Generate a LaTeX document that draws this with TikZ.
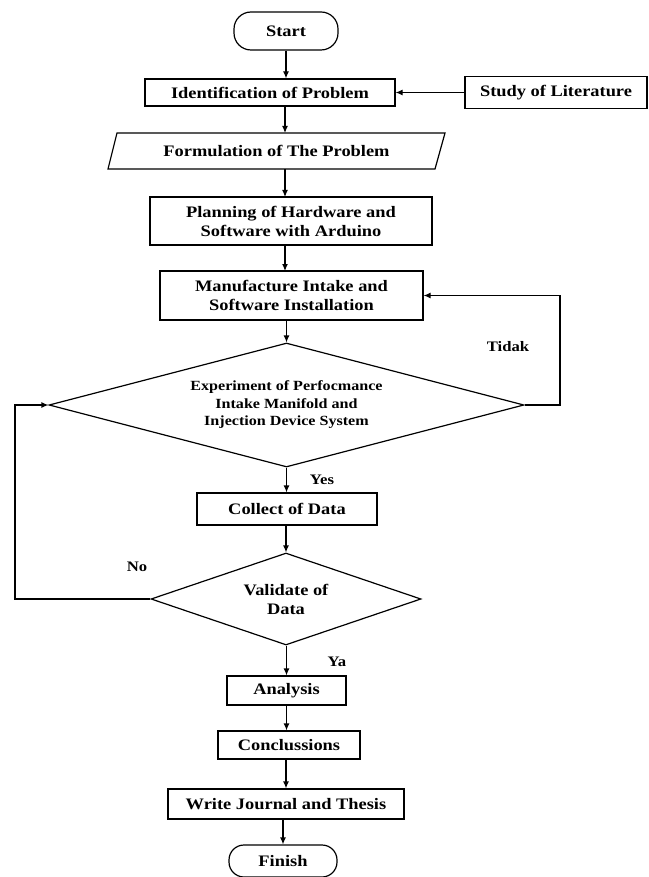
\documentclass[tikz,border=0pt]{standalone}
\usepackage{fontspec}
\setmainfont{Liberation Serif}[FakeStretch=1.15]
\usetikzlibrary{shapes.geometric,arrows.meta}
\begin{document}
\begin{tikzpicture}[x=1pt,y=-1pt,
  every node/.style={font=\bfseries\fontsize{16}{19}\selectfont, align=center, inner sep=0pt},
  box/.style={draw, line width=1.2pt, rectangle},
  term/.style={draw, line width=1.2pt, rectangle, rounded corners=17pt},
  dec/.style={draw, line width=1.2pt, diamond},
  arr/.style={line width=1.2pt, -{Latex[length=7pt,width=6pt]}},
  conn/.style={line width=1.2pt},
  lbl/.style={font=\bfseries\fontsize{14.5}{17}\selectfont}
]
\useasboundingbox (0,0) rectangle (648,877);
% nodes
\node[term, minimum width=104pt, minimum height=38pt] (start) at (286,31) {Start};
\node[box, minimum width=250pt, minimum height=27pt] (ident) at (270,92.5) {Identification of Problem};
\node[box, minimum width=182pt, minimum height=32pt] (study) at (556,92.5) {Study of Literature};
\node[minimum width=318pt, minimum height=36pt] (form) at (276.5,151) {Formulation of The Problem};
\draw[conn] (108,169) -- (117,133) -- (445,133) -- (435,169) -- cycle;
\node[box, minimum width=282pt, minimum height=48pt] (plan) at (291,221) {Planning of Hardware and\\Software with Arduino};
\node[box, minimum width=263pt, minimum height=49pt] (manu) at (291.5,295.5) {Manufacture Intake and\\Software Installation};
\node[dec, minimum width=475pt, minimum height=124pt, aspect=3.8, font=\bfseries\fontsize{14}{17.5}\selectfont] (dia1) at (286.5,405) {Experiment of Perfocmance\\Intake Manifold and\\Injection Device System};
\node[box, minimum width=180pt, minimum height=32pt] (collect) at (287,509) {Collect of Data};
\node[dec, minimum width=270pt, minimum height=92pt, aspect=2.9] (dia2) at (286,599) {Validate of\\Data};
\node[box, minimum width=119pt, minimum height=29pt] (analysis) at (286.5,690.5) {Analysis};
\node[box, minimum width=142pt, minimum height=28pt] (concl) at (289,745) {Conclussions};
\node[box, minimum width=236pt, minimum height=30pt] (write) at (286,804) {Write Journal and Thesis};
\node[term, minimum width=108pt, minimum height=32pt, rounded corners=15pt] (finish) at (283,861) {Finish};
% labels
\node[lbl] (ltidak) at (508,347) {Tidak};
\node[lbl] (lyes) at (322,480) {Yes};
\node[lbl] (lno) at (137,567) {No};
\node[lbl] (lya) at (337,662) {Ya};
% loop corners
\coordinate (rx) at (560,405);
\coordinate (lx) at (15,597);
% connectors
\draw[arr] (start.south) -- (start.south |- ident.north);
\draw[arr] (study.west) -- (study.west -| ident.east);
\draw[arr] (285,106) -- (285,133);
\draw[arr] (285,169) -- (285,197);
\draw[arr] (285,245) -- (285,271);
\draw[arr] (manu.south -| dia1.north) -- (dia1.north);
\draw[arr] (dia1.south) -- (dia1.south |- collect.north);
\draw[arr] (collect.south -| dia2.north) -- (dia2.north);
\draw[arr] (dia2.south -| analysis.north) -- (analysis.north);
\draw[arr] (analysis.south) -- (analysis.south |- concl.north);
\draw[arr] (concl.south -| write.north) -- (write.north);
\draw[arr] (write.south -| finish.north) -- (finish.north);
\draw[arr] (dia1.east) -- (dia1.east -| rx) |- (manu.east);
\draw[arr] (dia2.west) -- (dia2.west -| lx) |- (dia1.west);
\end{tikzpicture}
\end{document}
